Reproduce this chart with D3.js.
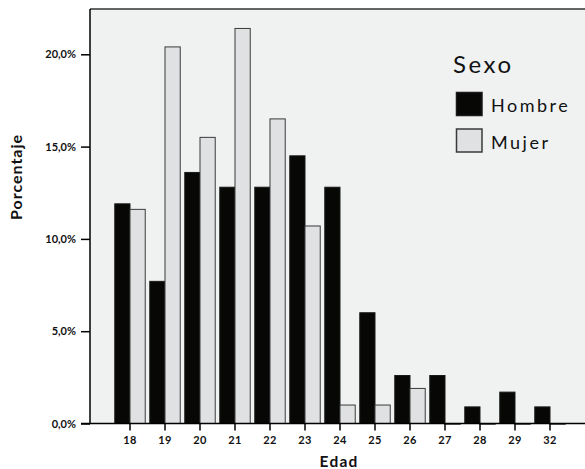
<!DOCTYPE html>
<html>
<head>
<meta charset="utf-8">
<script src="https://cdn.jsdelivr.net/npm/d3@7"></script>
<style>
  body { margin: 0; background: #fff; }
  text { font-family: Lato, "Open Sans", sans-serif; }
</style>
</head>
<body>
<script>
// age groups and percentage per sex
const edades = ["18", "19", "20", "21", "22", "23", "24", "25", "26", "27", "28", "29", "32"];
const hombre = [11.9, 7.7, 13.6, 12.8, 12.8, 14.5, 12.8, 6.0, 2.6, 2.6, 0.9, 1.7, 0.9];
const mujer = [11.6, 20.4, 15.5, 21.4, 16.5, 10.7, 1.0, 1.0, 1.9, 0, 0, 0, 0];
const yTicks = [0, 5, 10, 15, 20];
const series = ["Hombre", "Mujer"];

const W = 585, H = 469;
const plotL = 90, plotT = 9, plotB = 423.5, plotR = 590;

const svg = d3.select("body").append("svg")
  .attr("width", W)
  .attr("height", H);

const x = d3.scaleBand()
  .domain(edades)
  .range([112.5, 567.5])
  .paddingInner(0.13)
  .paddingOuter(0.065);

const xs = d3.scaleBand()
  .domain(series)
  .range([0, x.bandwidth()]);

const y = d3.scaleLinear()
  .domain([0, 20])
  .range([plotB, 54.3]);

const fills = { Hombre: "#070705", Mujer: "#e0e1e3" };
const strokes = { Hombre: "#1a1a1a", Mujer: "#3a3a3a" };

// plot background
svg.append("rect")
  .attr("x", plotL)
  .attr("y", plotT)
  .attr("width", plotR - plotL)
  .attr("height", plotB - plotT)
  .attr("fill", "#f0f1f1");

svg.append("line")
  .attr("x1", plotL).attr("x2", W)
  .attr("y1", plotT).attr("y2", plotT)
  .attr("stroke", "#333")
  .attr("stroke-width", 1.5);

// bars
const rows = edades.map((e, i) => ({ edad: e, Hombre: hombre[i], Mujer: mujer[i] }));

const groups = svg.append("g").selectAll("g")
  .data(rows)
  .join("g")
  .attr("transform", d => `translate(${x(d.edad)},0)`);

groups.selectAll("rect")
  .data(d => series.map(s => ({ s, v: d[s] })))
  .join("rect")
  .attr("x", d => xs(d.s))
  .attr("y", d => y(d.v))
  .attr("width", xs.bandwidth())
  .attr("height", d => Math.max(plotB - y(d.v), 0.8))
  .attr("fill", d => fills[d.s])
  .attr("stroke", d => strokes[d.s])
  .attr("stroke-width", 1);

// axes
const yAxis = svg.append("g")
  .attr("transform", `translate(${plotL},0)`)
  .call(d3.axisLeft(y).tickValues(yTicks).tickSize(9).tickPadding(5)
    .tickFormat(d => d3.format(".1f")(d).replace(".", ",") + "%"));
yAxis.select(".domain").attr("d", `M0,${plotT}V${plotB}`).attr("stroke-width", 1.5);
yAxis.selectAll(".tick line").attr("stroke-width", 1.5);
yAxis.selectAll("text")
  .attr("font-size", 11)
  .attr("font-weight", "bold")
  .attr("fill", "#111");

const xAxis = svg.append("g")
  .attr("transform", `translate(0,${plotB})`)
  .call(d3.axisBottom(x).tickSize(7).tickPadding(5.5));
xAxis.select(".domain").attr("d", `M${plotL - 9},0H${W}`).attr("stroke-width", 1.5);
xAxis.selectAll(".tick line").attr("stroke-width", 1.5);
xAxis.selectAll("text")
  .attr("font-size", 11)
  .attr("font-weight", "bold")
  .attr("letter-spacing", 0.5)
  .attr("fill", "#111");

// axis titles
svg.append("text")
  .attr("x", 339)
  .attr("y", 466.5)
  .attr("text-anchor", "middle")
  .attr("font-size", 15.5)
  .attr("font-weight", "bold")
  .attr("letter-spacing", 1.2)
  .attr("fill", "#111")
  .text("Edad");

svg.append("text")
  .attr("transform", "translate(21.5,177) rotate(-90)")
  .attr("text-anchor", "middle")
  .attr("font-size", 16)
  .attr("font-weight", "bold")
  .attr("letter-spacing", 1)
  .attr("fill", "#111")
  .text("Porcentaje");

// legend
const legend = svg.append("g");
legend.append("text")
  .attr("x", 453)
  .attr("y", 73)
  .attr("font-size", 24)
  .attr("letter-spacing", 2.5)
  .attr("fill", "#111")
  .text("Sexo");

legend.selectAll("rect")
  .data(series)
  .join("rect")
  .attr("x", 456.5)
  .attr("y", (d, i) => 92.5 + i * 36.5)
  .attr("width", 25.5)
  .attr("height", 23)
  .attr("fill", d => fills[d])
  .attr("stroke", d => strokes[d])
  .attr("stroke-width", 1.5);

legend.selectAll("text.item")
  .data(series)
  .join("text")
  .attr("class", "item")
  .attr("x", 491)
  .attr("y", (d, i) => 112 + i * 36.5)
  .attr("font-size", 18)
  .attr("letter-spacing", 2.5)
  .attr("fill", "#111")
  .text(d => d);
</script>
</body>
</html>
